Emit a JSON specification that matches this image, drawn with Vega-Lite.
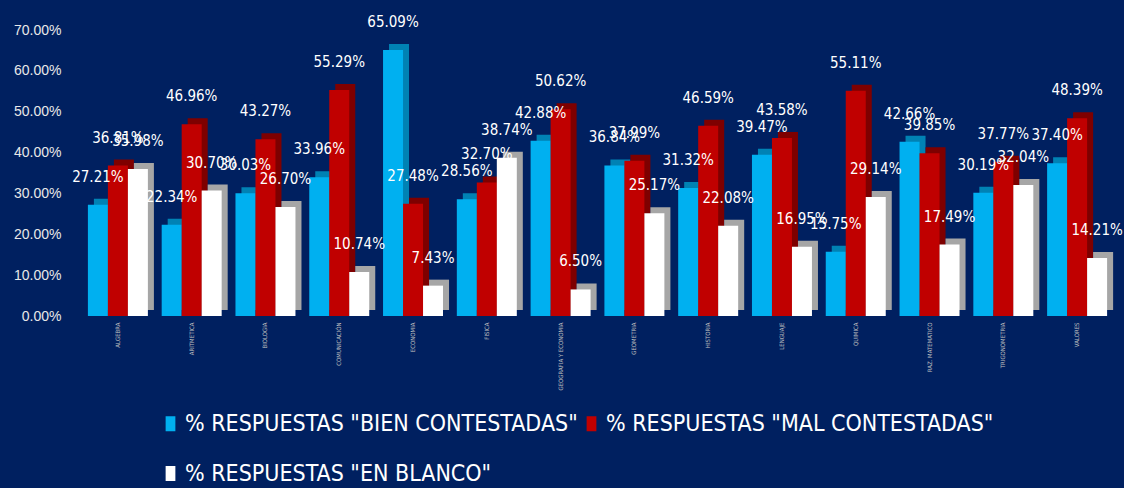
{
  "$schema": "https://vega.github.io/schema/vega-lite/v6.json",
  "width": 1033,
  "height": 286,
  "autosize": {"type": "none"},
  "padding": {"left": 81, "top": 30, "right": 10, "bottom": 172},
  "background": "#002060",
  "config": {"view": {"stroke": null}, "font": "Liberation Sans"},
  "data": {"values": [
    {"curso": "ALGEBRA", "serie": "% RESPUESTAS \"BIEN CONTESTADAS\"", "v": 0.2721},
    {"curso": "ALGEBRA", "serie": "% RESPUESTAS \"MAL CONTESTADAS\"", "v": 0.3681},
    {"curso": "ALGEBRA", "serie": "% RESPUESTAS \"EN BLANCO\"", "v": 0.3598},
    {"curso": "ARITMETICA", "serie": "% RESPUESTAS \"BIEN CONTESTADAS\"", "v": 0.2234},
    {"curso": "ARITMETICA", "serie": "% RESPUESTAS \"MAL CONTESTADAS\"", "v": 0.4696},
    {"curso": "ARITMETICA", "serie": "% RESPUESTAS \"EN BLANCO\"", "v": 0.3070},
    {"curso": "BIOLOGIA", "serie": "% RESPUESTAS \"BIEN CONTESTADAS\"", "v": 0.3003},
    {"curso": "BIOLOGIA", "serie": "% RESPUESTAS \"MAL CONTESTADAS\"", "v": 0.4327},
    {"curso": "BIOLOGIA", "serie": "% RESPUESTAS \"EN BLANCO\"", "v": 0.2670},
    {"curso": "COMUNICACIÓN", "serie": "% RESPUESTAS \"BIEN CONTESTADAS\"", "v": 0.3396},
    {"curso": "COMUNICACIÓN", "serie": "% RESPUESTAS \"MAL CONTESTADAS\"", "v": 0.5529},
    {"curso": "COMUNICACIÓN", "serie": "% RESPUESTAS \"EN BLANCO\"", "v": 0.1074},
    {"curso": "ECONOMIA", "serie": "% RESPUESTAS \"BIEN CONTESTADAS\"", "v": 0.6509},
    {"curso": "ECONOMIA", "serie": "% RESPUESTAS \"MAL CONTESTADAS\"", "v": 0.2748},
    {"curso": "ECONOMIA", "serie": "% RESPUESTAS \"EN BLANCO\"", "v": 0.0743},
    {"curso": "FISICA", "serie": "% RESPUESTAS \"BIEN CONTESTADAS\"", "v": 0.2856},
    {"curso": "FISICA", "serie": "% RESPUESTAS \"MAL CONTESTADAS\"", "v": 0.3270},
    {"curso": "FISICA", "serie": "% RESPUESTAS \"EN BLANCO\"", "v": 0.3874},
    {"curso": "GEOGRAFIA Y ECONOMIA", "serie": "% RESPUESTAS \"BIEN CONTESTADAS\"", "v": 0.4288},
    {"curso": "GEOGRAFIA Y ECONOMIA", "serie": "% RESPUESTAS \"MAL CONTESTADAS\"", "v": 0.5062},
    {"curso": "GEOGRAFIA Y ECONOMIA", "serie": "% RESPUESTAS \"EN BLANCO\"", "v": 0.0650},
    {"curso": "GEOMETRIA", "serie": "% RESPUESTAS \"BIEN CONTESTADAS\"", "v": 0.3684},
    {"curso": "GEOMETRIA", "serie": "% RESPUESTAS \"MAL CONTESTADAS\"", "v": 0.3799},
    {"curso": "GEOMETRIA", "serie": "% RESPUESTAS \"EN BLANCO\"", "v": 0.2517},
    {"curso": "HISTORIA", "serie": "% RESPUESTAS \"BIEN CONTESTADAS\"", "v": 0.3132},
    {"curso": "HISTORIA", "serie": "% RESPUESTAS \"MAL CONTESTADAS\"", "v": 0.4659},
    {"curso": "HISTORIA", "serie": "% RESPUESTAS \"EN BLANCO\"", "v": 0.2208},
    {"curso": "LENGUAJE", "serie": "% RESPUESTAS \"BIEN CONTESTADAS\"", "v": 0.3947},
    {"curso": "LENGUAJE", "serie": "% RESPUESTAS \"MAL CONTESTADAS\"", "v": 0.4358},
    {"curso": "LENGUAJE", "serie": "% RESPUESTAS \"EN BLANCO\"", "v": 0.1695},
    {"curso": "QUIMICA", "serie": "% RESPUESTAS \"BIEN CONTESTADAS\"", "v": 0.1575},
    {"curso": "QUIMICA", "serie": "% RESPUESTAS \"MAL CONTESTADAS\"", "v": 0.5511},
    {"curso": "QUIMICA", "serie": "% RESPUESTAS \"EN BLANCO\"", "v": 0.2914},
    {"curso": "RAZ. MATEMATICO", "serie": "% RESPUESTAS \"BIEN CONTESTADAS\"", "v": 0.4266},
    {"curso": "RAZ. MATEMATICO", "serie": "% RESPUESTAS \"MAL CONTESTADAS\"", "v": 0.3985},
    {"curso": "RAZ. MATEMATICO", "serie": "% RESPUESTAS \"EN BLANCO\"", "v": 0.1749},
    {"curso": "TRIGONOMETRIA", "serie": "% RESPUESTAS \"BIEN CONTESTADAS\"", "v": 0.3019},
    {"curso": "TRIGONOMETRIA", "serie": "% RESPUESTAS \"MAL CONTESTADAS\"", "v": 0.3777},
    {"curso": "TRIGONOMETRIA", "serie": "% RESPUESTAS \"EN BLANCO\"", "v": 0.3204},
    {"curso": "VALORES", "serie": "% RESPUESTAS \"BIEN CONTESTADAS\"", "v": 0.3740},
    {"curso": "VALORES", "serie": "% RESPUESTAS \"MAL CONTESTADAS\"", "v": 0.4839},
    {"curso": "VALORES", "serie": "% RESPUESTAS \"EN BLANCO\"", "v": 0.1421}
  ]},
  "encoding": {
    "x": {
      "field": "curso", "type": "nominal", "sort": null,
      "scale": {"paddingInner": 0.187, "paddingOuter": 0.0935},
      "axis": {"title": null, "domain": false, "ticks": false, "labelAngle": 270, "labelFontSize": 6, "labelColor": "#BFBFBF", "labelPadding": 6, "labelFont": "DejaVu Sans Condensed"}
    },
    "y": {
      "field": "v", "type": "quantitative",
      "scale": {"domain": [0, 0.7]},
      "axis": {"title": null, "domain": false, "ticks": false, "grid": false, "format": ".2%", "values": [0, 0.1, 0.2, 0.3, 0.4, 0.5, 0.6, 0.7], "labelFontSize": 14, "labelColor": "#E8E8E8", "labelPadding": 20}
    }
  },
  "resolve": {"scale": {"xOffset": "independent"}},
  "layer": [
    {
      "mark": {"type": "bar", "yOffset": -6, "y2Offset": -6},
      "encoding": {
        "xOffset": {
          "field": "serie", "type": "nominal",
          "sort": ["% RESPUESTAS \"BIEN CONTESTADAS\"", "% RESPUESTAS \"MAL CONTESTADAS\"", "% RESPUESTAS \"EN BLANCO\""],
          "scale": {"paddingInner": 0, "paddingOuter": 0, "range": [6, 66]}
        },
        "fill": {
          "field": "serie", "type": "nominal",
          "sort": ["% RESPUESTAS \"BIEN CONTESTADAS\"", "% RESPUESTAS \"MAL CONTESTADAS\"", "% RESPUESTAS \"EN BLANCO\""],
          "scale": {"range": ["#0082B4", "#7E0000", "#A6A6A6"]},
          "legend": null
        }
      }
    },
    {
      "layer": [
        {
          "mark": {"type": "bar"},
          "encoding": {
            "color": {
              "field": "serie", "type": "nominal", "title": null,
              "sort": ["% RESPUESTAS \"BIEN CONTESTADAS\"", "% RESPUESTAS \"MAL CONTESTADAS\"", "% RESPUESTAS \"EN BLANCO\""],
              "scale": {"range": ["#00B0F0", "#C00000", "#FFFFFF"]},
              "legend": {
                "orient": "none", "legendX": 78, "legendY": 382, "columns": 2,
                "values": ["% RESPUESTAS \"BIEN CONTESTADAS\"", "% RESPUESTAS \"EN BLANCO\"", "% RESPUESTAS \"MAL CONTESTADAS\""],
                "symbolType": "M-0.65,-1H0.65V1H-0.65Z", "symbolSize": 225, "symbolStrokeWidth": 0,
                "labelFont": "DejaVu Sans Condensed", "labelFontSize": 23, "labelColor": "#FFFFFF",
                "labelLimit": 500, "rowPadding": 26, "columnPadding": 2, "symbolOffset": 0, "labelOffset": 3
              }
            }
          }
        },
        {
          "mark": {"type": "text", "baseline": "bottom", "dy": -20, "color": "#FFFFFF", "font": "DejaVu Sans Condensed", "fontSize": 15},
          "encoding": {
            "text": {"field": "v", "type": "quantitative", "format": ".2%"}
          }
        }
      ],
      "encoding": {
        "xOffset": {
          "field": "serie", "type": "nominal",
          "sort": ["% RESPUESTAS \"BIEN CONTESTADAS\"", "% RESPUESTAS \"MAL CONTESTADAS\"", "% RESPUESTAS \"EN BLANCO\""],
          "scale": {"paddingInner": 0, "paddingOuter": 0}
        }
      }
    }
  ]
}
